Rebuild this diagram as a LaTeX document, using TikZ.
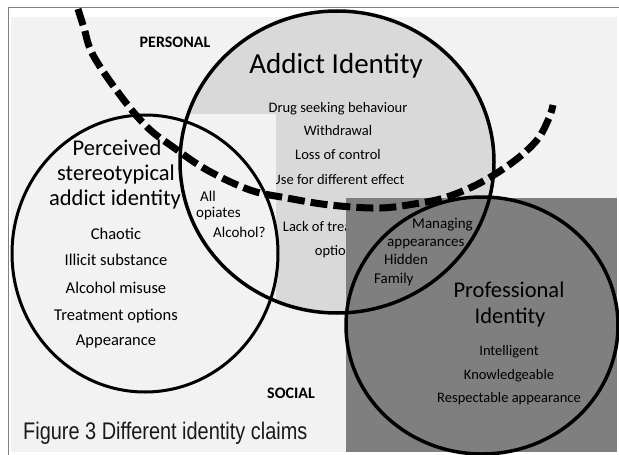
\documentclass[tikz,border=0pt]{standalone}
\usepackage{fontspec}
\setmainfont{Carlito}
\newfontfamily\capfont[FakeStretch=0.83]{Liberation Sans}
\usetikzlibrary{shapes.geometric}
\definecolor{bgA}{HTML}{F2F2F2}
\definecolor{addfill}{HTML}{D9D9D9}
\definecolor{darkfill}{HTML}{7F7F7F}
\definecolor{framegray}{HTML}{808080}
\tikzset{
  lbl/.style={inner sep=0pt, text height=0.65em, text depth=0pt},
  fAddT/.style={lbl, font=\fontsize{29}{29}\selectfont},
  fSm/.style={lbl, font=\fontsize{14.5}{14.5}\selectfont},
  fMid/.style={lbl, font=\fontsize{15}{15}\selectfont},
  fPer/.style={lbl, font=\fontsize{16.5}{16.5}\selectfont},
  fTitle/.style={lbl, font=\fontsize{22.5}{22.5}\selectfont},
  fBold/.style={lbl, font=\fontsize{16}{16}\selectfont\bfseries},
  ring/.style={ellipse, inner sep=0pt, draw=black},
  dashline/.style={line width=7pt, dash pattern=on 17pt off 6pt},
}
\begin{document}
\begin{tikzpicture}[x=1pt,y=-1pt]
\fill[white] (0,0) rectangle (619,455);
\useasboundingbox (0,0) rectangle (619,455);
\draw[framegray, line width=1.5pt] (8.5,455) -- (8.5,7.5) -- (619,7.5);
\fill[bgA] (11,17) rectangle (617,452);
% addict circle fill
\node[ellipse, inner sep=0pt, fill=addfill, minimum width=314pt, minimum height=302pt] (addictfill) at (337,162) {};
\node[fSm] (use) at (338,181) {Use for different effect};
\node[fSm] (lack) at (335,228) {Lack of treatment};
\node[fSm] (opts) at (337,252) {options};
% cover rectangles
\fill[bgA] (150,114) rectangle (276,330);
\fill[darkfill] (346,198) rectangle (617,452);
% dashed boundary
\draw[dashline] plot[smooth, tension=0.6] coordinates {(78,9) (84,28) (93,55) (120,95) (147,127) (173,147) (207,170) (250,190) (287,198) (330,205) (380,208) (420,203) (447,197) (480,183) (513,162) (537,140) (549,118) (553,105)};
% circles
\node[ring, line width=3.5pt, minimum width=314pt, minimum height=302pt] (addict) at (337,162) {};
\node[ring, line width=3pt, minimum width=266pt, minimum height=277pt] (perceived) at (145,253.5) {};
\node[ring, line width=3.5pt, minimum width=272pt, minimum height=257pt] (professional) at (482,325.5) {};
% labels
\node[fBold] (personal) at (175,44) {PERSONAL};
\node[fBold] (social) at (291,395) {SOCIAL};
\node[fAddT] (addtitle) at (336,70) {Addict Identity};
\node[fSm] (drug) at (338,109) {Drug seeking behaviour};
\node[fSm] (withd) at (338,132.5) {Withdrawal};
\node[fSm] (loss) at (338,156) {Loss of control};
\node[fTitle] (per1) at (117,152) {Perceived};
\node[fTitle] (per2) at (116,177) {stereotypical};
\node[fTitle] (per3) at (115,202) {addict identity};
\node[fPer] (chaotic) at (116,236) {Chaotic};
\node[fPer] (illicit) at (116,262.5) {Illicit substance};
\node[fPer] (alcmis) at (116,290) {Alcohol misuse};
\node[fPer] (treat) at (116,317) {Treatment options};
\node[fPer] (appear) at (116,342.5) {Appearance};
\node[fMid, anchor=west] (all) at (200,198) {All};
\node[fMid, anchor=west] (opiates) at (196,214) {opiates};
\node[fMid, anchor=west] (alcq) at (213,234.5) {Alcohol?};
\node[fMid, anchor=west] (managing) at (412,225) {Managing};
\node[fMid, anchor=west] (appearances) at (387,243) {appearances};
\node[fMid, anchor=west] (hidden) at (384,261.5) {Hidden};
\node[fMid, anchor=west] (family) at (374,280.5) {Family};
\node[fTitle] (prof1) at (509,294) {Professional};
\node[fTitle] (prof2) at (510,320.5) {Identity};
\node[fSm] (intel) at (509,352) {Intelligent};
\node[fSm] (know) at (509,376) {Knowledgeable};
\node[fSm] (resp) at (509,399) {Respectable appearance};
\node[inner sep=0pt, text height=0.72em, text depth=0pt, anchor=west, font=\capfont\fontsize{24}{24}\selectfont, text=black!90] (caption) at (23,435.5) {Figure 3 Different identity claims};
\end{tikzpicture}
\end{document}
